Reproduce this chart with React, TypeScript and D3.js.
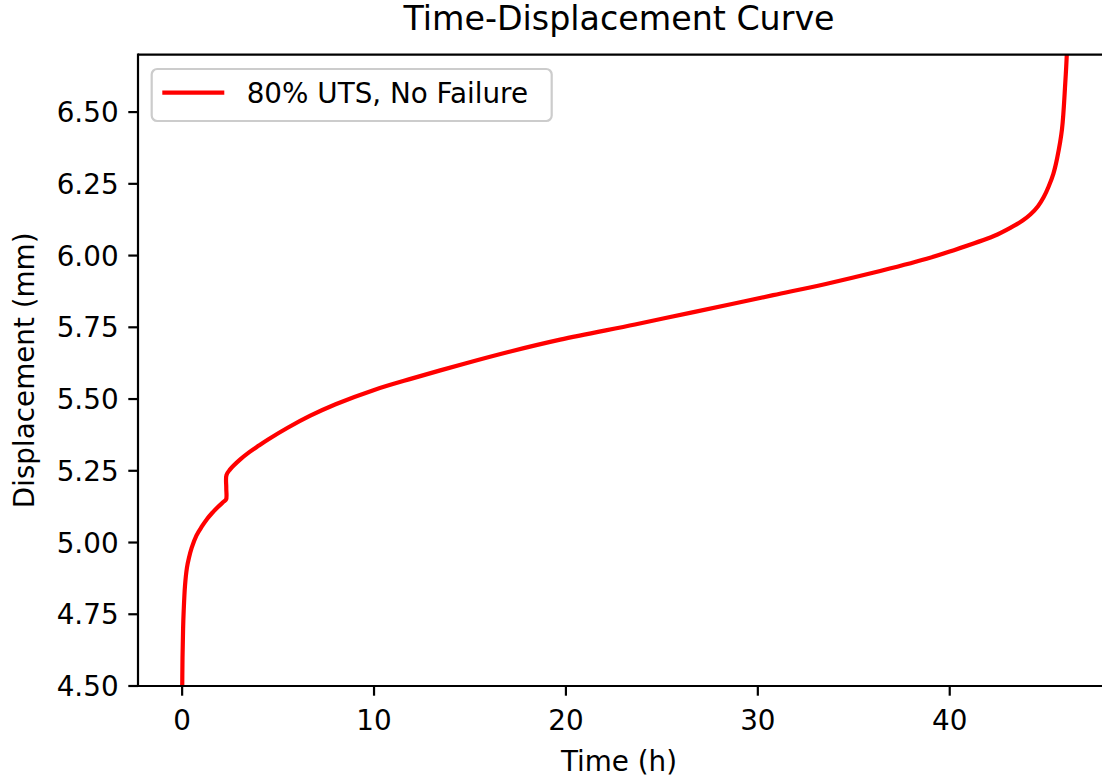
import React from "react";
import * as d3 from "d3";

const timeHours = [
  0.0, 0.02, 0.05, 0.08, 0.15, 0.25, 0.35, 0.5, 0.75, 1.03, 1.3, 1.55, 1.85, 2.16, 2.29, 2.3, 2.31,
  2.5, 3.0, 3.5, 4.0, 4.5, 5.5, 6.68, 8.0, 9.97, 12.0, 14.75, 17.0, 19.7, 23.6, 26.65, 30.8, 33.6,
  36.0, 38.8, 40.0, 42.3, 43.2, 43.8, 44.2, 44.6, 44.9, 45.15, 45.4, 45.6, 45.85, 46.02, 46.1, 46.12,
];
const displacementMm = [
  4.45, 4.6, 4.7, 4.76, 4.85, 4.912, 4.945, 4.982, 5.025, 5.056, 5.082, 5.102, 5.123, 5.142, 5.15, 5.19, 5.235,
  5.255, 5.288, 5.315, 5.338, 5.36, 5.4, 5.442, 5.482, 5.531, 5.572, 5.624, 5.664, 5.707, 5.76, 5.803, 5.862, 5.902,
  5.94, 5.989, 6.014, 6.068, 6.098, 6.122, 6.143, 6.172, 6.204, 6.24, 6.285, 6.34, 6.44, 6.6, 6.7, 6.75,
];
const xTicks = [0, 10, 20, 30, 40];
const yTicks = [4.5, 4.75, 5.0, 5.25, 5.5, 5.75, 6.0, 6.25, 6.5];
const seriesLabel = "80% UTS, No Failure";
const titleText = "Time-Displacement Curve";
const xLabel = "Time (h)";
const yLabel = "Displacement (mm)";

const W = 1102;
const H = 780;
const left = 138;
const right = 1109;
const top = 54.7;
const bottom = 686;
const FONT = "DejaVu Sans, sans-serif";
const FS = 27.8;
const tickLen = 9.7;

export default function App() {
  const x = d3.scaleLinear().domain([-2.3, 48.3]).range([left, right]);
  const y = d3.scaleLinear().domain([4.5, 6.7]).range([bottom, top]);
  const pts: [number, number][] = timeHours.map((t, i) => [t, displacementMm[i]]);
  const line = d3
    .line<[number, number]>()
    .x((d) => x(d[0]))
    .y((d) => y(d[1]))
    .curve(d3.curveCatmullRom.alpha(0.5));

  return (
    <svg
      width={W}
      height={H}
      style={{ position: "absolute", left: 0, top: 0, background: "#fff" }}
      fontFamily={FONT}
    >
      <defs>
        <clipPath id="plotclip">
          <rect x={left} y={top} width={right - left} height={bottom - top} />
        </clipPath>
      </defs>
      <rect x={0} y={0} width={W} height={H} fill="#fff" />
      <text x={619} y={29.5} textAnchor="middle" fontSize={33.3} fill="#000">
        {titleText}
      </text>
      <path
        d={line(pts) || ""}
        fill="none"
        stroke="#ff0000"
        strokeWidth={4.2}
        strokeLinejoin="round"
        strokeLinecap="butt"
        clipPath="url(#plotclip)"
      />
      {/* spines */}
      <line x1={left} x2={right} y1={top} y2={top} stroke="#000" strokeWidth={2.2} />
      <line x1={left} x2={right} y1={bottom} y2={bottom} stroke="#000" strokeWidth={2.2} />
      <line x1={left} x2={left} y1={top} y2={bottom} stroke="#000" strokeWidth={2.2} strokeLinecap="square" />
      <line x1={right} x2={right} y1={top} y2={bottom} stroke="#000" strokeWidth={2.2} />
      {/* x ticks */}
      {xTicks.map((t) => (
        <g key={"x" + t}>
          <line x1={x(t)} x2={x(t)} y1={bottom} y2={bottom + tickLen} stroke="#000" strokeWidth={2.2} />
          <text x={x(t)} y={729.5} textAnchor="middle" fontSize={FS} fill="#000">
            {t}
          </text>
        </g>
      ))}
      {/* y ticks */}
      {yTicks.map((v) => (
        <g key={"y" + v}>
          <line x1={left - tickLen} x2={left} y1={y(v)} y2={y(v)} stroke="#000" strokeWidth={2.2} />
          <text x={118.6} y={y(v) + 10} textAnchor="end" fontSize={FS} fill="#000">
            {v.toFixed(2)}
          </text>
        </g>
      ))}
      <text x={619} y={771} textAnchor="middle" fontSize={FS} fill="#000">
        {xLabel}
      </text>
      <text
        transform={`translate(34, ${(top + bottom) / 2}) rotate(-90)`}
        textAnchor="middle"
        fontSize={FS}
        fill="#000"
      >
        {yLabel}
      </text>
      {/* legend */}
      <rect
        x={151.7}
        y={69}
        width={400}
        height={52}
        rx={5.5}
        ry={5.5}
        fill="#fff"
        fillOpacity={0.8}
        stroke="#cccccc"
        strokeWidth={2.2}
      />
      <line x1={162.3} x2={224.3} y1={92.7} y2={92.7} stroke="#ff0000" strokeWidth={4.2} />
      <text x={246.7} y={103.3} fontSize={FS} fill="#000">
        {seriesLabel}
      </text>
    </svg>
  );
}
